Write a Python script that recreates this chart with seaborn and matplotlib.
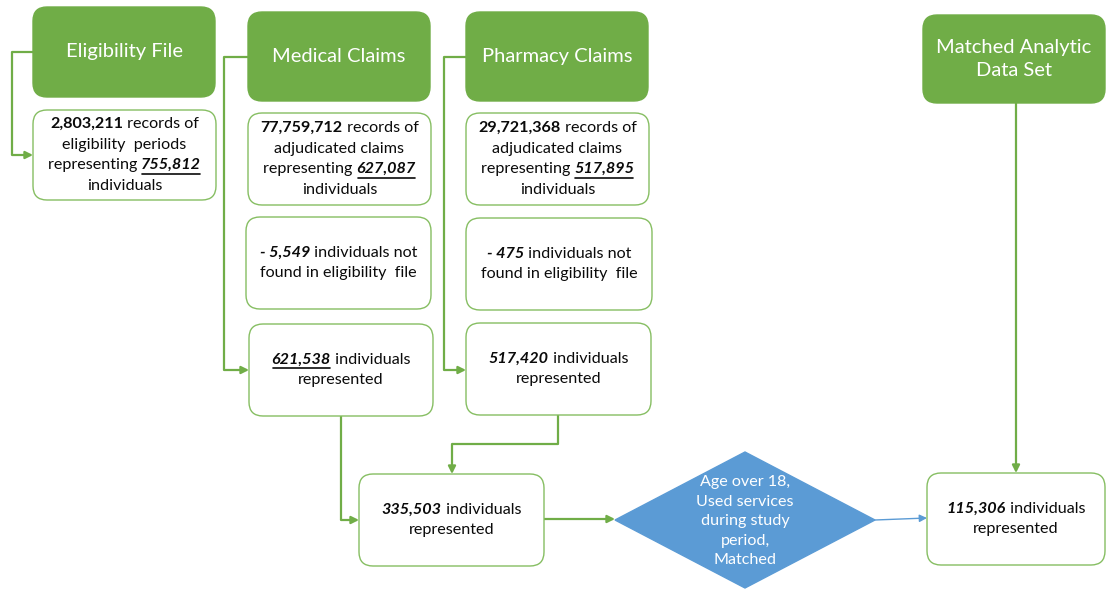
import matplotlib.pyplot as plt
import seaborn as sns
from matplotlib.patches import FancyBboxPatch, Polygon

sns.set_style("white")
plt.rcParams["font.family"] = ["Lato", "DejaVu Sans"]

GREEN = "#70AD47"
EDGE = "#86BE62"
BLUE = "#5B9BD5"

# header labels
headers = ["Eligibility File", "Medical Claims", "Pharmacy Claims", "Matched Analytic\nData Set"]

# box texts: list of lines, each line a list of (text, style) runs
# style: n normal, b bold, i italic, u underline
elig_text = [[("2,803,211", "b"), (" records of", "n")],
             [("eligibility  periods", "n")],
             [("representing ", "n"), ("755,812", "biu")],
             [("individuals", "n")]]
med_text = [[("77,759,712", "b"), (" records of", "n")],
            [("adjudicated claims", "n")],
            [("representing ", "n"), ("627,087", "biu")],
            [("individuals", "n")]]
med_drop = [[("- 5,549", "bi"), (" individuals not", "n")],
            [("found in eligibility  file", "n")]]
med_left = [[("621,538", "biu"), (" individuals", "n")],
            [("represented", "n")]]
pharm_text = [[("29,721,368", "b"), (" records of", "n")],
              [("adjudicated claims", "n")],
              [("representing ", "n"), ("517,895", "biu")],
              [("individuals", "n")]]
pharm_drop = [[("- 475", "bi"), (" individuals not", "n")],
              [("found in eligibility  file", "n")]]
pharm_left = [[("517,420", "bi"), (" individuals", "n")],
              [("represented", "n")]]
merged = [[("335,503", "bi"), (" individuals", "n")],
          [("represented", "n")]]
final = [[("115,306", "bi"), (" individuals", "n")],
         [("represented", "n")]]
criteria = ["Age over 18,", "Used services", "during study", "period,", "Matched"]

fig = plt.figure(figsize=(11.07, 5.89), dpi=100)
ax = fig.add_axes([0, 0, 1, 1])
ax.set_xlim(0, 1107)
ax.set_ylim(589, 0)
ax.axis("off")
renderer = fig.canvas.get_renderer()


def box(x0, y0, x1, y1, fill="white", edge=EDGE, lw=1.0, r=14):
    p = FancyBboxPatch((x0, y0), x1 - x0, y1 - y0,
                       boxstyle=f"round,pad=0,rounding_size={r}",
                       fc=fill, ec=edge, lw=lw, zorder=2)
    ax.add_patch(p)


def rich(cx, cy, lines, size=11.6, spacing=20.5, color="#0a0a0a"):
    n = len(lines)
    for i, runs in enumerate(lines):
        y = cy + (i - (n - 1) / 2) * spacing
        items = []
        for s, st in runs:
            t = ax.text(0, y, s, fontsize=size, color=color, va="center", ha="left",
                        weight="bold" if "b" in st else "normal",
                        style="italic" if "i" in st else "normal", zorder=4)
            w = t.get_window_extent(renderer).width
            items.append((t, w, st))
        x = cx - sum(w for _, w, _ in items) / 2
        for t, w, st in items:
            t.set_x(x)
            if "u" in st:
                ax.plot([x + 1, x + w - 1], [y + 8.5, y + 8.5], color=color, lw=1.2, zorder=4)
            x += w


def path(pts, color=GREEN, lw=1.6, head=True):
    xs, ys = zip(*pts)
    if head:
        ax.plot(xs[:-1], ys[:-1], color=color, lw=lw, zorder=1, solid_capstyle="butt")
        ax.annotate("", xy=pts[-1], xytext=pts[-2],
                    arrowprops=dict(arrowstyle="-|>", color=color, lw=lw,
                                    mutation_scale=11, shrinkA=0, shrinkB=0), zorder=1)
    else:
        ax.plot(xs, ys, color=color, lw=lw, zorder=1)


# connectors
path([(33, 52), (12, 52), (12, 155), (33, 155)])
path([(248, 57), (224, 57), (224, 370), (249, 370)])
path([(466, 57), (444, 57), (444, 370), (466, 370)])
path([(341, 416), (341, 520), (359, 520)])
path([(558, 415), (558, 444), (452, 444), (452, 474)])
path([(544, 519), (615, 519)])
path([(875, 520), (927, 518)], color=BLUE, lw=1.0)
path([(1016, 103), (1016, 473)])

# green headers
hdr_boxes = [(33, 7, 215, 97), (248, 12, 430, 101), (466, 12, 648, 101), (923, 15, 1105, 103)]
for (x0, y0, x1, y1), lab in zip(hdr_boxes, headers):
    box(x0, y0, x1, y1, fill=GREEN, edge=GREEN, r=14)
    ax.text((x0 + x1) / 2, (y0 + y1) / 2, lab, color="white", fontsize=14.5,
            ha="center", va="center", linespacing=1.45, zorder=4)

# white boxes
white = [((33, 110, 216, 200), elig_text),
         ((248, 113, 431, 205), med_text),
         ((246, 217, 431, 309), med_drop),
         ((249, 324, 433, 416), med_left),
         ((466, 113, 649, 205), pharm_text),
         ((466, 218, 652, 310), pharm_drop),
         ((466, 323, 651, 415), pharm_left),
         ((359, 474, 544, 566), merged),
         ((927, 473, 1105, 565), final)]
for (x0, y0, x1, y1), lines in white:
    box(x0, y0, x1, y1)
    rich((x0 + x1) / 2, (y0 + y1) / 2, lines)

# decision diamond
ax.add_patch(Polygon([(615, 520), (745, 452), (875, 520), (745, 588)],
                     closed=True, fc=BLUE, ec=BLUE, zorder=2))
for i, s in enumerate(criteria):
    ax.text(745, 482 + i * 19.5, s, color="white", fontsize=11.6,
            ha="center", va="center", zorder=4)

fig.savefig("out.png", dpi=100)
